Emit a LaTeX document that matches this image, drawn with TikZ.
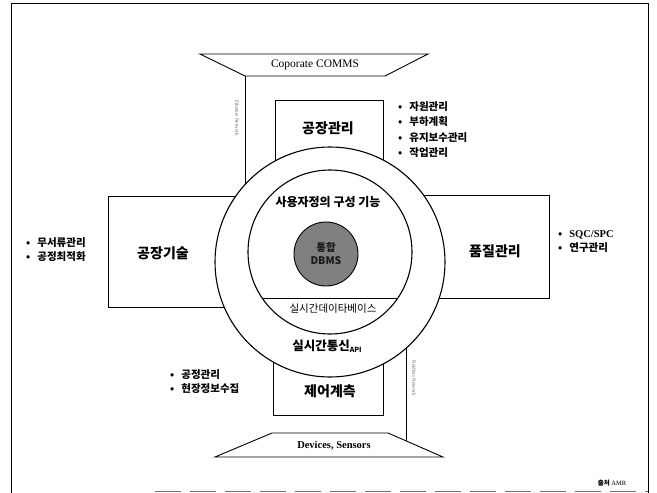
\documentclass[tikz,border=0pt]{standalone}
\usepackage{fontspec}
\usetikzlibrary{calc}
\setmainfont{Liberation Serif}
\newfontfamily\kr{Noto Sans CJK KR}
\begin{document}
\begin{tikzpicture}[x=1pt,y=-1pt,
  ln/.style={line width=0.9pt},
  ring/.style={line width=1.1pt},
  lbl/.style={font=\kr\bfseries\fontsize{14}{16}\selectfont, inner sep=0pt},
  blist/.style={font=\kr\bfseries\fontsize{10.5}{14}\selectfont, align=left, inner sep=0pt, anchor=west},
  tiny/.style={font=\fontsize{5}{6}\selectfont, text=black!60, inner sep=0pt, rotate=-90}
]
\useasboundingbox (0,0) rectangle (657,493);
% frame
\draw[ln] (11,493) -- (11,3) -- (648,3) -- (648,493);
\draw[ln, black!55, dash pattern=on 26pt off 9pt] (155,491) -- (648,491);

% trapezoids
\coordinate (ttl) at (200,54); \coordinate (ttr) at (428,54);
\coordinate (tbl) at (245,76); \coordinate (tbr) at (385,76);
\draw[ln] (ttl) -- (ttr) -- (tbr) -- (tbl) -- cycle;
\node[font=\fontsize{11.5}{13}\selectfont, inner sep=0pt] (comms) at (315,65) {Coporate COMMS};

\coordinate (btl) at (272,433); \coordinate (btr) at (388,433);
\coordinate (bbl) at (215,457); \coordinate (bbr) at (443,457);
\draw[ln] (btl) -- (btr) -- (bbr) -- (bbl) -- cycle;
\node[font=\bfseries\fontsize{10.5}{12}\selectfont, inner sep=0pt] (dev) at (334,446) {Devices, Sensors};
\coordinate (rlb) at ($(btr)!0.327!(bbr)$);

% circle centre
\coordinate (c) at (330,262);
% boxes of the cross
\draw[ln] (275,262) -- (275,100) -- (383,100) -- (383,262);
\draw[ln] (330,196) -- (108,196) -- (108,307) -- (330,307);
\draw[ln] (330,195) -- (549,195) -- (549,298) -- (330,298);
\draw[ln] (273,262) -- (273,415) -- (383,415) -- (383,262);
% network lines
\draw[ln] (tbl) -- (tbl |- c);
\draw[ln] (rlb) -- (rlb |- c);

\node[ring, draw, fill=white, circle, minimum size=230pt, inner sep=0pt] (outer) at (c) {};
\node[ring, draw, fill=white, circle, minimum size=164pt, inner sep=0pt] (inner) at (330,252) {};
\begin{scope}
  \clip (330,252) circle (82pt);
  \draw[ln] (240,298) -- (420,298);
\end{scope}
\node[draw, line width=0.9pt, circle, fill=black!50, minimum size=64pt, inner sep=0pt,
      font=\kr\bfseries\fontsize{10.5}{13}\selectfont, text=black!90, align=center] (core) at (326,254) {통합\\DBMS};

% labels
\node[lbl] (fm) at (328,128) {공장관리};
\node[lbl] (ft) at (163,253) {공장기술};
\node[lbl] (qm) at (495,251) {품질관리};
\node[lbl] (cm) at (330,391) {제어계측};
\node[font=\kr\bfseries\fontsize{12}{14}\selectfont, inner sep=0pt] (user) at (328,202) {사용자정의 구성 기능};
\node[font=\kr\fontsize{10.5}{12}\selectfont, inner sep=0pt] (rtdb) at (333,309) {실시간데이타베이스};
\node[font=\kr\bfseries\fontsize{12.5}{14}\selectfont, inner sep=0pt] (rtc) at (327,346) {실시간통신\raisebox{-2pt}{\fontsize{7}{8}\selectfont API}};

% bullet lists
\node[blist, font=\kr\bfseries\fontsize{10.5}{15.5}\selectfont] (l1) at (398,129.5) {•\hspace{7pt}자원관리\\•\hspace{7pt}부하계획\\•\hspace{7pt}유지보수관리\\•\hspace{7pt}작업관리};
\node[blist] (l2) at (26,250) {•\hspace{7pt}무서류관리\\•\hspace{7pt}공정최적화};
\node[blist] (l3) at (558,242) {•\hspace{7pt}{\rmfamily SQC/SPC}\\•\hspace{7pt}연구관리};
\node[blist] (l4) at (170,382) {•\hspace{7pt}공정관리\\•\hspace{7pt}현장정보수집};

% vertical small texts
\node[tiny] (net1) at (237,118) {Ethernet Network};
\node[tiny] (net2) at (414,378) {Fieldbus Network};

% source
\node[font=\fontsize{6.5}{8}\selectfont, inner sep=0pt] (src) at (612,483) {{\kr\bfseries 출처} AMR};
\end{tikzpicture}
\end{document}
